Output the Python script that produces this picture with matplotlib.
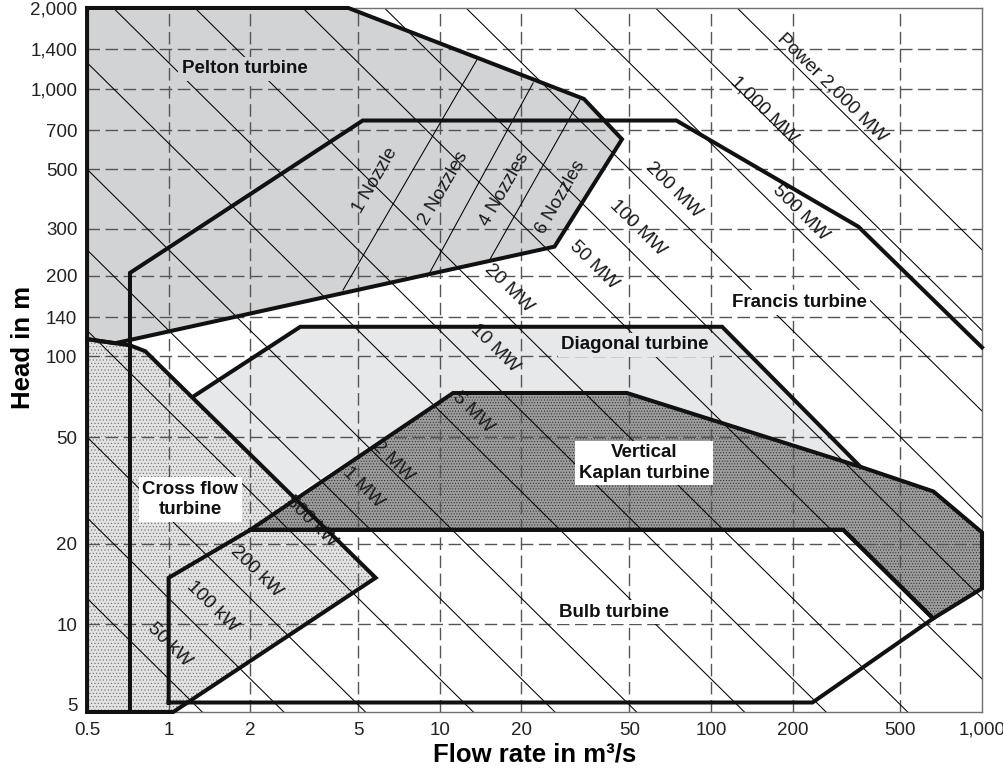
import numpy as np
import matplotlib.pyplot as plt
from matplotlib.patches import Polygon

plt.rcParams['font.family'] = ['Liberation Sans', 'DejaVu Sans']
plt.rcParams['hatch.linewidth'] = 0.4

head_min, head_max = 4.7, 2000
flow_min, flow_max = 0.5, 1000

# application ranges: flow rate in m3/s, head in m
pelton_q = [0.5, 4.6, 34, 47, 26.5, 0.635, 0.5]
pelton_h = [2000, 2000, 915, 647, 257, 112, 116]

francis_q = [0.72, 0.72, 5.2, 74.6, 350, 1000]
francis_h = [head_min, 205, 760, 760, 305, 108]

diagonal_q = [1.23, 3.06, 110, 356, 49, 11.2, 2.88]
diagonal_h = [70.7, 129, 129, 38.7, 73, 73, 30]

kaplan_q = [2.0, 308, 660, 1000, 1000, 662, 356, 49, 11.2]
kaplan_h = [22.5, 22.5, 10.5, 13.6, 22, 31.3, 38.7, 73, 73]

bulb_q = [1.0, 237, 660, 308, 2.0, 1.0]
bulb_h = [5.1, 5.1, 10.5, 22.5, 22.5, 14.9]

crossflow_q = [0.5, 0.5, 0.635, 0.72, 0.82, 5.8, 1.04]
crossflow_h = [head_min, 116, 112, 110, 104.5, 14.9, head_min]

# Pelton nozzle limits (start / end)
nozzle_q = [(4.4, 13.7), (9.0, 22.1), (15.3, 32.9)]
nozzle_h = [(177, 1280), (198, 1050), (230, 907)]
nozzle_text = ['1 Nozzle', '2 Nozzles', '4 Nozzles', '6 Nozzles']
nozzle_label_q = [5.8, 10.3, 17.4, 27.8]
nozzle_label_h = [456, 423, 420, 394]

# constant power lines, P [kW] ~ 8 * Q * H
power_kw = [50, 100, 200, 500, 1000, 2000, 5000, 10000, 20000, 50000,
            100000, 200000, 500000, 1000000, 2000000]
power_text = ['50 kW', '100 kW', '200 kW', '500 kW', '1 MW', '2 MW', '5 MW',
              '10 MW', '20 MW', '50 MW', '100 MW', '200 MW', '500 MW',
              '1,000 MW', 'Power 2,000 MW']
power_label_q = [1.01, 1.45, 2.1, 3.35, 5.2, 6.7, 13.3, 15.9, 17.9, 37.1,
                 53.6, 72.6, 214, 157, 281]
power_label_h = [8.4, 11.6, 15.7, 24.2, 32.4, 40.5, 61.6, 107, 180, 220,
                 301, 418, 344, 832, 1006]

xticks = [0.5, 1, 2, 5, 10, 20, 50, 100, 200, 500, 1000]
xtick_labels = ['0.5', '1', '2', '5', '10', '20', '50', '100', '200', '500', '1,000']
yticks = [5, 10, 20, 50, 100, 140, 200, 300, 500, 700, 1000, 1400, 2000]
ytick_labels = ['5', '10', '20', '50', '100', '140', '200', '300', '500',
                '700', '1,000', '1,400', '2,000']

pelton_col = '#d2d3d5'
diag_col = '#e7e8ea'

fig = plt.figure(figsize=(10.04, 7.75), dpi=100)
ax = fig.add_axes([0.0867, 0.0813, 0.8914, 0.9084])
ax.set_xscale('log')
ax.set_yscale('log')
ax.set_xlim(flow_min, flow_max)
ax.set_ylim(head_min, head_max)

def area(q, h, face, z, hatch=None, hatch_col=None):
    ax.add_patch(Polygon(np.column_stack([q, h]), closed=True, facecolor=face,
                         edgecolor='none', lw=0, zorder=z))
    if hatch:
        ax.add_patch(Polygon(np.column_stack([q, h]), closed=True, facecolor='none',
                             edgecolor=hatch_col, hatch=hatch, lw=0, zorder=z + 0.05))

area(pelton_q, pelton_h, pelton_col, 1)
area(diagonal_q, diagonal_h, diag_col, 1.1)
area(crossflow_q, crossflow_h, '#e2e2e2', 1.2, '.....', '#6a6a6a')
area(kaplan_q, kaplan_h, '#9c9c9c', 1.3, '......', '#262626')

# dashed grid
for gx in xticks[1:-1]:
    ax.axvline(gx, color='#555555', lw=1.0, ls=(0, (9, 4)), zorder=2)
for gy in yticks[1:-1]:
    ax.axhline(gy, color='#555555', lw=1.0, ls=(0, (9, 4)), zorder=2)

# power lines
q_line = np.array([flow_min, flow_max])
for p in power_kw:
    ax.plot(q_line, p / (8.0 * q_line), color='black', lw=0.75, zorder=2.5)

for (q0, q1), (h0, h1) in zip(nozzle_q, nozzle_h):
    ax.plot([q0, q1], [h0, h1], color='black', lw=0.75, zorder=2.5)

# range outlines
thick = dict(color='#111111', lw=2.9, solid_joinstyle='miter', zorder=3, clip_on=False)
for q, h in [(pelton_q, pelton_h), (crossflow_q, crossflow_h),
             (kaplan_q, kaplan_h), (bulb_q, bulb_h)]:
    ax.plot(list(q) + [q[0]], list(h) + [h[0]], **thick)
ax.plot(francis_q, francis_h, **thick)
ax.plot(diagonal_q[:4], diagonal_h[:4], **thick)

# labels
for t, q, h in zip(power_text, power_label_q, power_label_h):
    ax.text(q, h, t, fontsize=13.8, rotation=-44.7, rotation_mode='anchor',
            ha='center', va='center', color='#1a1a1a', zorder=2.8)
for t, q, h in zip(nozzle_text, nozzle_label_q, nozzle_label_h):
    ax.text(q, h, t, fontsize=13.5, rotation=60, rotation_mode='anchor',
            ha='center', va='center', color='#1a1a1a', zorder=2.8)

def region_label(q, h, t, bg):
    ax.text(q, h, t, fontsize=13.5, fontweight='bold', ha='center', va='center',
            color='#111111', linespacing=1.25, zorder=4,
            bbox=dict(facecolor=bg, edgecolor='none', pad=2.5))

region_label(1.91, 1184, 'Pelton turbine', pelton_col)
region_label(212, 159, 'Francis turbine', 'white')
region_label(52.6, 110.6, 'Diagonal turbine', diag_col)
region_label(56.8, 40, 'Vertical\nKaplan turbine', 'white')
region_label(44, 11.1, 'Bulb turbine', 'white')
region_label(1.2, 29.2, 'Cross flow\nturbine', 'white')

ax.set_xticks(xticks)
ax.set_xticklabels(xtick_labels)
ax.set_yticks(yticks)
ax.set_yticklabels(ytick_labels)
ax.minorticks_off()
ax.tick_params(length=0, labelsize=13.5, pad=7, colors='#222222')
for s in ax.spines.values():
    s.set_color('#707070')
    s.set_linewidth(1.0)

ax.set_xlabel('Flow rate in m³/s', fontsize=18.5, fontweight='bold', labelpad=3)
ax.set_ylabel('Head in m', fontsize=18.5, fontweight='bold')
ax.yaxis.set_label_coords(-0.058, 0.518)

fig.savefig('out.png', dpi=100)
